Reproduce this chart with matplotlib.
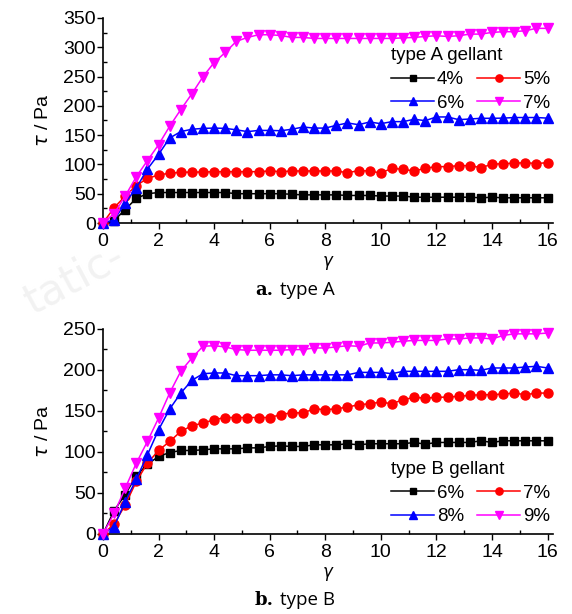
import matplotlib
matplotlib.use("Agg")
import matplotlib.pyplot as plt
from matplotlib.ticker import MultipleLocator

# shear strain (gamma) sampled every 0.4
gamma = [round(0.4 * i, 1) for i in range(41)]

# ---- type A gellant (tau / Pa) ----
A_labels = ["4%", "5%", "6%", "7%"]
A_4 = [0, 4, 23, 42, 50, 52, 52, 52, 52, 52, 52, 52, 50, 50, 50, 50, 50, 49, 48, 48,
       48, 48, 47, 47, 47, 46, 46, 46, 44, 44, 44, 44, 44, 44, 43, 44, 43, 43, 43, 43, 43]
A_5 = [0, 26, 46, 64, 76, 82, 85, 86.5, 87, 87, 87.6, 87.6, 87.6, 87.6, 87.6, 88.8, 87.6, 88.8, 88.8, 88.8,
       88.8, 88.8, 85.9, 89.3, 88.8, 85.3, 93.4, 91.6, 88.8, 93.4, 96.2, 96.2, 97.9, 97.9, 94.5, 100.2,
       101.4, 101.9, 103.1, 101.4, 103.1]
A_6 = [0, 5, 34, 60, 92, 117, 145, 156, 160, 161.5, 162, 161.5, 159, 156, 158, 158, 157.5, 160,
       163.8, 162, 162, 166.7, 170.7, 167.8, 172.4, 169.5, 173, 173, 177, 174.7, 181, 181, 176.4,
       177.5, 178.7, 178.7, 179, 180, 180, 180, 179]
A_7 = [0, 16, 46, 79, 106.5, 133.5, 165, 193.6, 220.5, 249.7, 273.8, 291, 310, 316.7, 321.3,
       321.3, 320, 316.7, 316.7, 315, 315, 315, 315, 315, 315, 315, 315, 316, 316.7, 318.4, 319.6,
       318.4, 319.6, 322.4, 322.4, 325.3, 326.5, 326.5, 328.2, 332.2, 332.2]

# ---- type B gellant (tau / Pa) ----
B_labels = ["6%", "7%", "8%", "9%"]
B_6 = [0, 28.5, 48, 71, 85, 94.5, 99.3, 101.8, 101.8, 102.6, 103.8, 103.8, 103.8, 105, 105,
       106.7, 107.5, 106.7, 106.7, 108.7, 108.7, 108.7, 110, 108.7, 110, 110, 110, 110, 111.6,
       109.5, 111.6, 111.6, 111.6, 111.6, 113.6, 111.6, 113.6, 113.6, 113.6, 113.6, 113.6]
B_7 = [0, 12, 35.4, 64, 86.3, 101.8, 112.8, 125, 132, 135.2, 139.3, 142, 142, 142, 142, 142,
       145.4, 148, 147.4, 152.7, 151.5, 152.7, 154.7, 157.6, 158.8, 160.8, 158.8, 163.7, 166.5,
       165.7, 166.5, 167, 167.8, 169, 169.8, 169.8, 170.6, 171.8, 169.8, 171.8, 171.8]
B_8 = [0, 9, 39.5, 66.8, 96.5, 127, 152.3, 171.8, 187.3, 195.4, 196.3, 196.3, 193, 193, 193,
       194, 194, 193, 194, 194, 194, 194, 194, 197, 197, 197, 195.4, 198.3, 198.3, 198.3, 198.3,
       198.3, 200.3, 200.3, 199.5, 202.4, 202.4, 202.4, 203.6, 204.4, 202.4]
B_9 = [0, 25, 55.8, 86.3, 112.8, 141.3, 171.8, 198.3, 214.6, 228.8, 229.6, 228, 224.8, 224,
       224, 224, 224, 224.8, 224.8, 226.8, 226.8, 228, 229.6, 228.8, 232.9, 232.9, 233.7, 235,
       236, 236, 236, 237.8, 237.8, 239, 239, 237.8, 242, 244, 244, 244, 245]

A_title = "type A gellant"
B_title = "type B gellant"
captions = ["a.", "type A", "b.", "type B"]

colors = ["black", "#ff0000", "#0000ff", "#ff00ff"]
markers = ["s", "o", "^", "v"]
msizes = [5.5, 6.5, 6.5, 6.5]

tick_font = "Liberation Sans"
tick_size = 14
leg_size = 13.5

fig = plt.figure(figsize=(5.72, 6.14), dpi=100)
fig.patch.set_facecolor("white")

# faint watermark
fig.text(0.03, 0.49, "tatic-", fontsize=30, color="#f2f2f2", rotation=28,
         family="DejaVu Sans", zorder=0)


def style_axes(ax, ymax, ystep):
    ax.set_xlim(0, 16.2)
    ax.set_ylim(0, ymax)
    ax.spines["top"].set_visible(False)
    ax.spines["right"].set_visible(False)
    ax.xaxis.set_minor_locator(MultipleLocator(1))
    ax.yaxis.set_minor_locator(MultipleLocator(ystep / 2))
    ax.set_xticks(range(0, 17, 2))
    ax.set_xticklabels([str(v) for v in range(0, 17, 2)], family=tick_font, fontsize=tick_size)
    ax.set_yticks(range(0, ymax + 1, ystep))
    ax.set_yticklabels([str(v) for v in range(0, ymax + 1, ystep)], family=tick_font, fontsize=tick_size)
    ax.tick_params(which="major", direction="out", length=4, width=1)
    ax.tick_params(axis="x", which="major", pad=3)
    ax.tick_params(axis="y", which="major", pad=1)
    ax.tick_params(which="minor", direction="in", length=3, width=1)
    ax.set_ylabel(r"$\tau$ / Pa", fontsize=tick_size, family=tick_font, labelpad=8)
    ax.set_xlabel(r"$\gamma$", fontsize=12, labelpad=3)
    for sp in ax.spines.values():
        sp.set_linewidth(1.2)


def plot_panel(ax, series, labels, title, anchor):
    handles = []
    for ys, lab, c, m, ms in zip(series, labels, colors, markers, msizes):
        h, = ax.plot(gamma, ys, color=c, marker=m, markersize=ms, linewidth=1.1,
                     label=lab, clip_on=False, zorder=3)
        handles.append(h)
    order = [0, 2, 1, 3]  # row-wise filling in a 2-column legend
    ax.legend([handles[i] for i in order], [labels[i] for i in order],
              loc="upper right", bbox_to_anchor=anchor, ncol=2, frameon=False,
              title=title, alignment="left",
              prop={"family": tick_font, "size": leg_size},
              title_fontproperties={"family": tick_font, "size": leg_size},
              handlelength=2.3, handletextpad=0.15, columnspacing=0.7,
              labelspacing=0.35, borderaxespad=0.0, borderpad=0.15, markerscale=0.8)


axA = fig.add_axes([0.180, 0.6368, 0.787, 0.334])
plot_panel(axA, [A_4, A_5, A_6, A_7], A_labels, A_title, (1.0, 0.87))
style_axes(axA, 350, 50)

axB = fig.add_axes([0.180, 0.1303, 0.787, 0.334])
plot_panel(axB, [B_6, B_7, B_8, B_9], B_labels, B_title, (1.0, 0.37))
style_axes(axB, 250, 50)

cap_font = "Open Sans"
fig.text(0.478, 0.527, captions[0], fontsize=13, fontweight="bold", family="DejaVu Serif",
         ha="right", va="center")
fig.text(0.49, 0.527, captions[1], fontsize=13.5, family=cap_font, ha="left", va="center")
fig.text(0.478, 0.022, captions[2], fontsize=13, fontweight="bold", family="DejaVu Serif",
         ha="right", va="center")
fig.text(0.49, 0.022, captions[3], fontsize=13.5, family=cap_font, ha="left", va="center")

fig.savefig("out.png", dpi=100, facecolor="white")
